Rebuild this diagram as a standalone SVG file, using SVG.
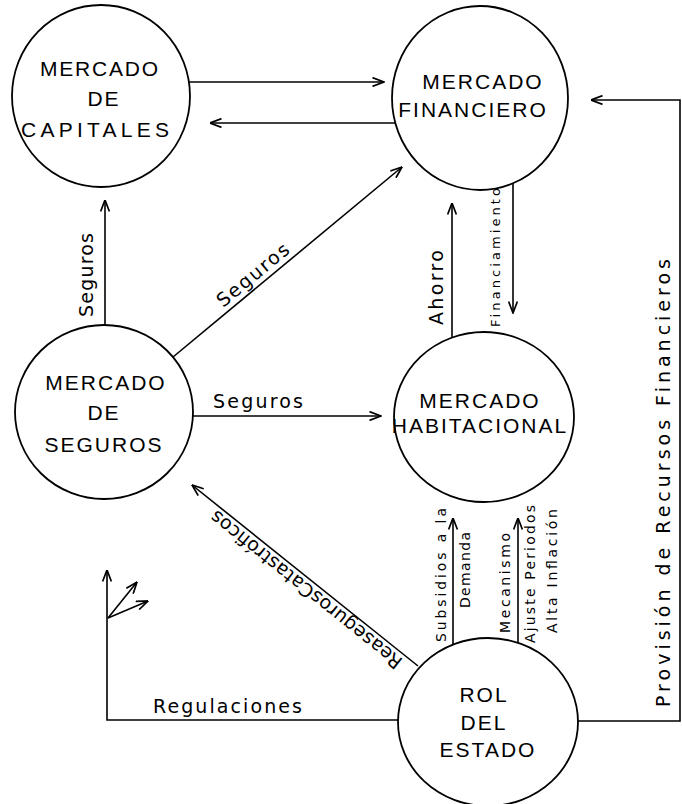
<svg xmlns="http://www.w3.org/2000/svg" width="682" height="804" viewBox="0 0 682 804">
<style>
.node ellipse{fill:#fff;stroke:#000;stroke-width:1.8}
.node text{font-family:"Liberation Sans",Arial,sans-serif;font-size:21px;letter-spacing:2px;text-anchor:middle;fill:#000}
#edges path{fill:none;stroke:#000;stroke-width:1.6}
.lbl{font-family:"DejaVu Sans",sans-serif;font-size:19px;fill:#000}
.sm{font-size:14px}
</style>
<defs>
<marker id="ah" viewBox="0 0 13 10" refX="12.5" refY="5" markerWidth="13" markerHeight="10" markerUnits="userSpaceOnUse" orient="auto">
<path d="M1,0.6 L12.5,5 L1,9.4" fill="none" stroke="#000" stroke-width="1.7"/>
</marker>
</defs>
<rect width="682" height="804" fill="#fff"/>
<g id="edges">
<path d="M189,82 H384" marker-end="url(#ah)"/>
<path d="M395,123 H210" marker-end="url(#ah)"/>
<path d="M578,721 H680 V100 H591" marker-end="url(#ah)"/>
<path d="M105,325 V200" marker-end="url(#ah)"/>
<path d="M173,357 L402,167" marker-end="url(#ah)"/>
<path d="M193,416 H381" marker-end="url(#ah)"/>
<path d="M452,337 V203" marker-end="url(#ah)"/>
<path d="M513,183 V313" marker-end="url(#ah)"/>
<path d="M418,666 L192,485" marker-end="url(#ah)"/>
<path d="M398,720 H107 V570" marker-end="url(#ah)"/>
<path d="M108,618 L137,582" marker-end="url(#ah)"/>
<path d="M108,618 L148,601" marker-end="url(#ah)"/>
<path d="M453,644 V518" marker-end="url(#ah)"/>
<path d="M518,643 V518" marker-end="url(#ah)"/>
</g>
<g id="labels">
<text class="lbl" transform="translate(93,275) rotate(-90)" text-anchor="middle" textLength="84" lengthAdjust="spacing">Seguros</text>
<text class="lbl" transform="translate(257,280) rotate(-39.7)" text-anchor="middle" textLength="88" lengthAdjust="spacing">Seguros</text>
<text class="lbl" x="213" y="408" textLength="90" lengthAdjust="spacing">Seguros</text>
<text class="lbl" transform="translate(443,287.5) rotate(-90)" text-anchor="middle" textLength="75" lengthAdjust="spacing">Ahorro</text>
<text class="lbl" style="font-size:13px" transform="translate(500,257.5) rotate(-90)" text-anchor="middle" textLength="139" lengthAdjust="spacing">Financiamiento</text>
<text class="lbl" transform="translate(403.8,659.7) rotate(218.7)" textLength="240" lengthAdjust="spacing">ReasegurosCatastróficos</text>
<text class="lbl" x="153" y="713" textLength="149" lengthAdjust="spacing">Regulaciones</text>
<text class="lbl sm" transform="translate(446,575) rotate(-90)" text-anchor="middle" textLength="134" lengthAdjust="spacing">Subsidios a la</text>
<text class="lbl sm" transform="translate(470,570) rotate(-90)" text-anchor="middle" textLength="76" lengthAdjust="spacing">Demanda</text>
<text class="lbl sm" transform="translate(510,583) rotate(-90)" text-anchor="middle" textLength="100" lengthAdjust="spacing">Mecanismo</text>
<text class="lbl sm" transform="translate(535,574) rotate(-90)" text-anchor="middle" textLength="138" lengthAdjust="spacing">Ajuste Periodos</text>
<text class="lbl sm" transform="translate(557,571) rotate(-90)" text-anchor="middle" textLength="124" lengthAdjust="spacing">Alta Inflación</text>
<text class="lbl" transform="translate(670,483) rotate(-90)" text-anchor="middle" textLength="448" lengthAdjust="spacing">Provisión de Recursos Financieros</text>
</g>
<g id="n-capitales" class="node">
<ellipse cx="101" cy="96" rx="89" ry="91"/>
<text x="100" y="76" textLength="120" lengthAdjust="spacing">MERCADO</text>
<text x="104" y="106">DE</text>
<text x="96" y="137" textLength="150" lengthAdjust="spacing">CAPITALES</text>
</g>
<g id="n-financiero" class="node">
<ellipse cx="480" cy="98" rx="88" ry="92"/>
<text x="483" y="89">MERCADO</text>
<text x="473" y="117">FINANCIERO</text>
</g>
<g id="n-seguros" class="node">
<ellipse cx="104" cy="412" rx="89" ry="87"/>
<text x="106" y="390">MERCADO</text>
<text x="104" y="420">DE</text>
<text x="104" y="452">SEGUROS</text>
</g>
<g id="n-habitacional" class="node">
<ellipse cx="484" cy="417" rx="90" ry="85"/>
<text x="480" y="408">MERCADO</text>
<text x="480" y="433">HABITACIONAL</text>
</g>
<g id="n-estado" class="node">
<ellipse cx="488" cy="722" rx="90" ry="84"/>
<text x="484" y="702">ROL</text>
<text x="484" y="730">DEL</text>
<text x="488" y="757">ESTADO</text>
</g>
</svg>
